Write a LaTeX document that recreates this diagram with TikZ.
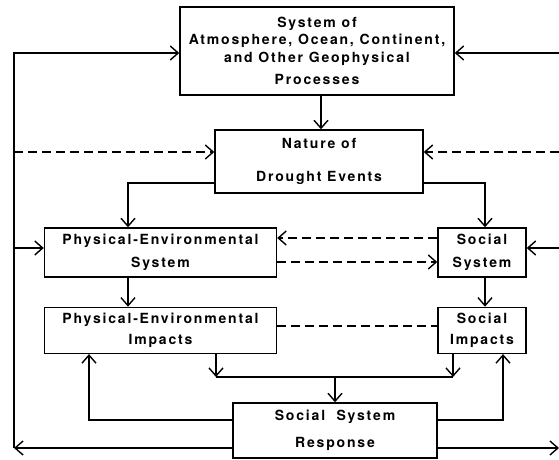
\documentclass[tikz,border=0pt]{standalone}
\usepackage{fontspec}
\setmainfont{TeX Gyre Heros}[LetterSpace=13]
\usepackage{tikz}
\usetikzlibrary{arrows.meta, positioning}
\tikzstyle{box} = [draw, rectangle, line width=1.4pt, align=center, inner sep=0pt, font=\fontsize{14}{17.5}\selectfont\bfseries]
\tikzstyle{flow} = [-{Straight Barb[length=8pt, width=14pt, line width=1.4pt]}, line width=1.4pt]
\tikzstyle{dashflow} = [flow, dash pattern=on 9pt off 5pt]
\tikzstyle{link} = [line width=1.4pt]

\begin{document}
\begin{tikzpicture}[x=1pt, y=-1pt]
    \useasboundingbox (0,0) rectangle (559,460);

    \node (geo) [box, minimum width=274pt, minimum height=88pt] at (317,51)
        {System of\\Atmosphere, Ocean, Continent,\\and Other Geophysical\\[5pt]Processes};
    \node (drought) [box, minimum width=208pt, minimum height=63pt] at (319,161.5)
        {Nature of\\[15pt]Drought Events};
    \node (phys system) [box, minimum width=232pt, minimum height=49pt] at (160.5,252.5)
        {Physical-Environmental\\[6pt]System};
    \node (social system) [box, minimum width=88pt, minimum height=49pt] at (482,252.5)
        {Social\\[6pt]System};
    \node (phys impacts) [box, minimum width=232pt, minimum height=46pt, below=29pt of phys system]
        {Physical-Environmental\\[4pt]Impacts};
    \node (social impacts) [box, minimum width=88pt, minimum height=46pt, below=29pt of social system]
        {Social\\[4pt]Impacts};
    \node (response) [box, minimum width=204pt, minimum height=55pt] at (335,430.5)
        {Social\ \ System\\[10pt]Response};

    \foreach \i/\y in {0/53, 1/152, 2/248, 3/448} {%
        \coordinate (left \i) at (14,\y);
        \coordinate (right \i) at (559,\y);
    }
    \coordinate (merge) at (335,377);

    % Arrows.
    \draw [flow] ([xshift=4pt]geo.south) -- ([xshift=4pt]geo.south |- drought.north);
    \draw [flow] ([yshift=-21.5pt]drought.west) -| ([xshift=-32.5pt]phys system.north);
    \draw [flow] ([yshift=-21.5pt]drought.east) -| ([xshift=3pt]social system.north);
    \draw [dashflow] ([yshift=14.5pt]social system.west) -- ([yshift=14.5pt]phys system.east);
    \draw [dashflow] ([yshift=-9.5pt]phys system.east) -- ([yshift=-9.5pt]social system.west);
    \draw [flow] ([xshift=-32.5pt]phys system.south) -- ([xshift=-32.5pt]phys impacts.north);
    \draw [flow] ([xshift=3pt]social system.south) -- ([xshift=3pt]social impacts.north);
    \draw [link, dash pattern=on 9pt off 5pt] ([yshift=4.5pt]phys impacts.east) -- ([yshift=4.5pt]social impacts.west);

    \draw [flow] ([xshift=55.5pt]phys impacts.south) -- ([xshift=55.5pt]phys impacts.south |- merge);
    \draw [flow] ([xshift=-29pt]social impacts.south) -- ([xshift=-29pt]social impacts.south |- merge);
    \draw [link] ([xshift=55.5pt]phys impacts.south |- merge) -- ([xshift=-29pt]social impacts.south |- merge);
    \draw [flow] (merge) -- (response.north);
    \draw [flow] ([yshift=10.5pt]response.west) -| ([xshift=-71.5pt]phys impacts.south);
    \draw [flow] ([yshift=10.5pt]response.east) -| ([xshift=21pt]social impacts.south);

    % Feedback to the outer system.
    \draw [flow] (response.west |- left 3) -- (left 3);
    \draw [flow] (left 3) -- (left 0) -- (geo.west |- left 0);
    \draw [dashflow] (left 1) -- (drought.west |- left 1);
    \draw [flow] (left 2) -- (phys system.west |- left 2);
    \draw [flow] (right 0) -- (geo.east |- right 0);
    \draw [dashflow] (right 1) -- (drought.east |- right 1);
    \draw [flow] (right 2) -- (social system.east |- right 2);
    \draw [flow] (response.east |- right 3) -- (right 3);
\end{tikzpicture}
\end{document}
